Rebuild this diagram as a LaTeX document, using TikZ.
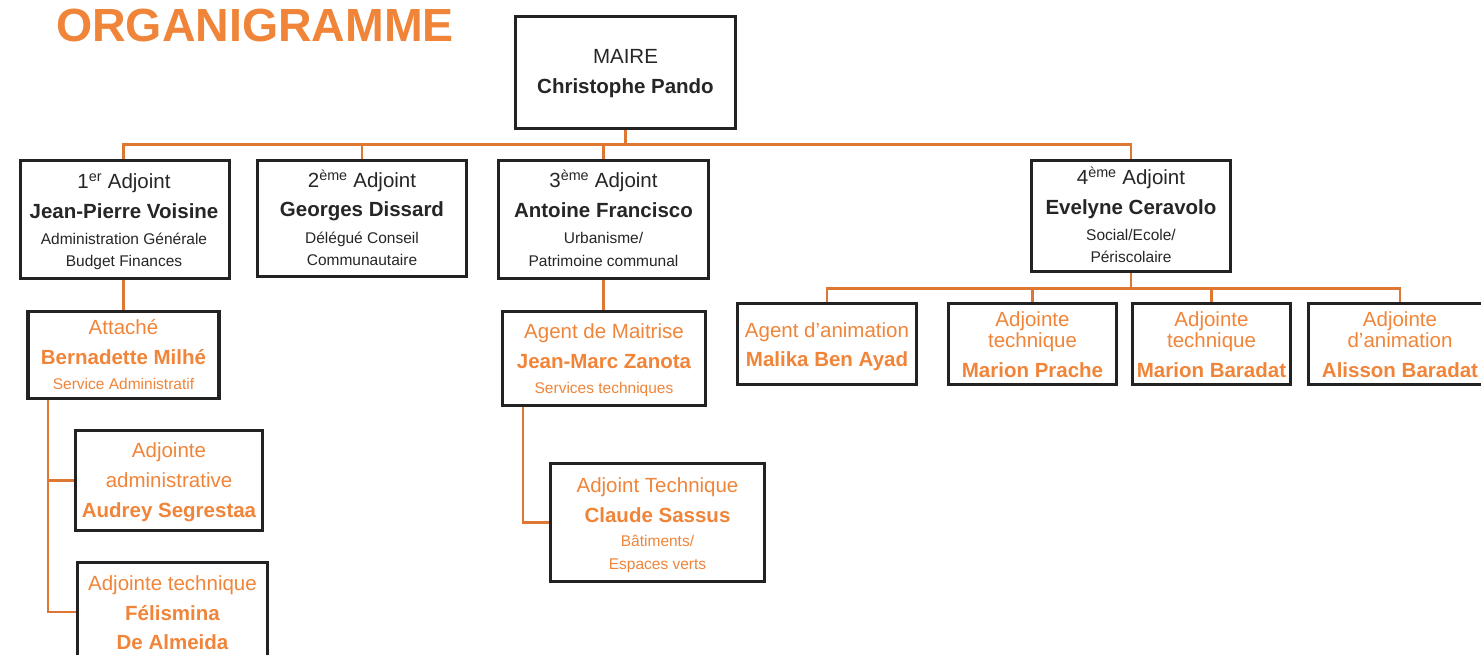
\documentclass[tikz,border=0pt]{standalone}
\usepackage{fontspec}
\setmainfont{Liberation Sans}
\definecolor{orgtxt}{HTML}{F0853A}
\definecolor{orgline}{HTML}{DE7634}
\definecolor{boxline}{HTML}{222222}
\begin{document}
\begin{tikzpicture}[x=1pt,y=-1pt,
  box/.style={draw=boxline,line width=2.4pt,rectangle,inner sep=0pt,fill=white},
  conn/.style={draw=orgline,line width=2.4pt},
  big/.style={anchor=base,inner sep=0pt,font=\fontsize{20.5}{24}\selectfont},
  nm/.style={anchor=base,inner sep=0pt,font=\fontsize{20.5}{24}\selectfont\bfseries},
  sm/.style={anchor=base,inner sep=0pt,font=\fontsize{15.5}{18}\selectfont},
  blk/.style={text=black!85},
  org/.style={text=orgtxt}]
\useasboundingbox (0,0) rectangle (1481,655);
\fill[white] (0,0) rectangle (1481,655);

\node[anchor=base west,inner sep=0pt,text=orgtxt,font=\fontsize{46.5}{50}\selectfont\bfseries] (title) at (56,42) {ORGANIGRAMME};

% boxes
\node[box,minimum width=219,minimum height=111] (maire) at (625.5,72.5) {};
\node[box,minimum width=208,minimum height=117] (a1) at (125,219.5) {};
\node[box,minimum width=208,minimum height=115] (a2) at (362,218.5) {};
\node[box,minimum width=209,minimum height=117] (a3) at (603.5,219.5) {};
\node[box,minimum width=198,minimum height=110] (a4) at (1131,216) {};
\node[box,minimum width=190,minimum height=86] (att) at (123.5,355) {};
\node[box,minimum width=186,minimum height=99] (aud) at (169,480.5) {};
\node[box,minimum width=189,minimum height=98] (fel) at (172.5,612) {};
\node[box,minimum width=202,minimum height=93] (ag) at (604,358.5) {};
\node[box,minimum width=213,minimum height=117] (cs) at (657.5,522.5) {};
\node[box,minimum width=178,minimum height=80] (mal) at (827,344) {};
\node[box,minimum width=167,minimum height=80] (mp) at (1032.5,344) {};
\node[box,minimum width=157,minimum height=80] (mb) at (1211.5,344) {};
\node[box,minimum width=182,minimum height=80] (al) at (1400,344) {};

% connectors
\coordinate (busA) at (0,144.5);
\coordinate (busB) at (0,288.5);
\coordinate (ja) at (48,0);
\coordinate (jb) at (523,0);
\draw[conn] (maire.south) -- (maire.south |- busA);
\draw[conn] (att.north |- a1.north) -- (att.north |- busA) -- (a4.north |- busA) -- (a4.north);
\draw[conn] (a2.north) -- (a2.north |- busA);
\draw[conn] (a3.north) -- (a3.north |- busA);
\draw[conn] (att.north |- a1.south) -- (att.north);
\draw[conn] (a3.south) -- (a3.south |- ag.north);
\draw[conn] (att.south -| ja) |- (aud.west);
\draw[conn] (att.south -| ja) |- (fel.west);
\draw[conn] (ag.south -| jb) |- (cs.west);
\draw[conn] (a4.south) -- (a4.south |- busB);
\draw[conn] (mal.north) -- (mal.north |- busB) -- (al.north |- busB) -- (al.north);
\draw[conn] (mp.north) -- (mp.north |- busB);
\draw[conn] (mb.north) -- (mb.north |- busB);
% redraw box borders on top
\foreach \b in {maire,a1,a2,a3,a4,att,aud,fel,ag,cs,mal,mp,mb,al}
  \draw[draw=boxline,line width=2.4pt] (\b.north west) rectangle (\b.south east);

% texts
\node[big,blk] (t1) at (625.5,64) {MAIRE};
\node[nm,blk] (t2) at (625.5,94) {Christophe Pando};

\node[big,blk] (t3) at (124,189) {1\textsuperscript{er} Adjoint};
\node[nm,blk] (t4) at (124,219) {Jean-Pierre Voisine};
\node[sm,blk] (t5) at (124,244.5) {Administration Générale};
\node[sm,blk] (t6) at (124,266.5) {Budget Finances};

\node[big,blk] (t7) at (362,188) {2\textsuperscript{ème} Adjoint};
\node[nm,blk] (t8) at (362,217) {Georges Dissard};
\node[sm,blk] (t9) at (362,243.5) {Délégué Conseil};
\node[sm,blk] (t10) at (362,265.5) {Communautaire};

\node[big,blk] (t11) at (603.5,188) {3\textsuperscript{ème} Adjoint};
\node[nm,blk] (t12) at (603.5,218) {Antoine Francisco};
\node[sm,blk] (t13) at (603.5,243.5) {Urbanisme/};
\node[sm,blk] (t14) at (603.5,266.5) {Patrimoine communal};

\node[big,blk] (t15) at (1131,185) {4\textsuperscript{ème} Adjoint};
\node[nm,blk] (t16) at (1131,215) {Evelyne Ceravolo};
\node[sm,blk] (t17) at (1131,240.5) {Social/Ecole/};
\node[sm,blk] (t18) at (1131,262.5) {Périscolaire};

\node[big,org] (t19) at (123.5,334) {Attaché};
\node[nm,org] (t20) at (123.5,364) {Bernadette Milhé};
\node[sm,org] (t21) at (123.5,389.5) {Service Administratif};

\node[big,org] (t22) at (169,457) {Adjointe};
\node[big,org] (t23) at (169,487) {administrative};
\node[nm,org] (t24) at (169,517) {Audrey Segrestaa};

\node[big,org] (t25) at (172.5,590) {Adjointe technique};
\node[nm,org] (t26) at (172.5,620) {Félismina};
\node[nm,org] (t27) at (172.5,649) {De Almeida};

\node[big,org] (t28) at (604,338) {Agent de Maitrise};
\node[nm,org] (t29) at (604,368) {Jean-Marc Zanota};
\node[sm,org] (t30) at (604,393.5) {Services techniques};

\node[big,org] (t31) at (657.5,492) {Adjoint Technique};
\node[nm,org] (t32) at (657.5,522) {Claude Sassus};
\node[sm,org] (t33) at (657.5,546.5) {Bâtiments/};
\node[sm,org] (t34) at (657.5,569.5) {Espaces verts};

\node[big,org] (t35) at (827,337) {Agent d’animation};
\node[nm,org] (t36) at (827,366) {Malika Ben Ayad};

\node[big,org] (t37) at (1032.5,326) {Adjointe};
\node[big,org] (t38) at (1032.5,347) {technique};
\node[nm,org] (t39) at (1032.5,377) {Marion Prache};

\node[big,org] (t40) at (1211.5,326) {Adjointe};
\node[big,org] (t41) at (1211.5,347) {technique};
\node[nm,org] (t42) at (1211.5,377) {Marion Baradat};

\node[big,org] (t43) at (1400,326) {Adjointe};
\node[big,org] (t44) at (1400,347) {d’animation};
\node[nm,org] (t45) at (1400,377) {Alisson Baradat};
\end{tikzpicture}
\end{document}
